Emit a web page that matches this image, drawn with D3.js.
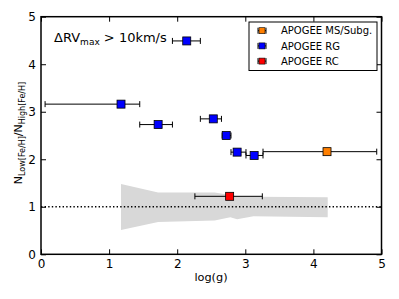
<!DOCTYPE html>
<html>
<head>
<meta charset="utf-8">
<script src="https://cdn.jsdelivr.net/npm/d3@7"></script>
<style>
  body { margin: 0; background: #fff; }
  text { font-family: "DejaVu Sans", sans-serif; }
</style>
</head>
<body>
<div id="chart"></div>
<script>
// APOGEE RG points
const rgX = [1.175, 1.72, 2.14, 2.53, 2.72, 2.88, 3.13];
const rgY = [3.16, 2.73, 4.49, 2.85, 2.50, 2.15, 2.08];
const rgXlo = [0.06, 1.45, 1.93, 2.34, 2.66, 2.79, 3.01];
const rgXhi = [1.45, 1.93, 2.34, 2.65, 2.79, 3.01, 3.26];

// APOGEE MS/Subg.
const msX = [4.20];
const msY = [2.16];
const msXlo = [3.26];
const msXhi = [4.93];

// APOGEE RC
const rcX = [2.77];
const rcY = [1.22];
const rcXlo = [2.26];
const rcXhi = [3.25];

// grey band
const bandX = [1.175, 1.72, 2.55, 2.78, 2.88, 3.12, 4.21];
const bandLo = [0.51, 0.68, 0.71, 0.78, 0.74, 0.80, 0.78];
const bandHi = [1.48, 1.30, 1.30, 1.25, 1.22, 1.21, 1.20];

const xTicks = [0, 1, 2, 3, 4, 5];
const yTicks = [0, 1, 2, 3, 4, 5];

const W = 399, H = 299;
const margin = { left: 41, right: 17.5, top: 16.7, bottom: 44.7 };
const width = W - margin.left - margin.right;
const height = H - margin.top - margin.bottom;

const svg = d3.select('#chart').append('svg')
  .attr('width', W).attr('height', H);

const g = svg.append('g')
  .attr('transform', `translate(${margin.left},${margin.top})`);

const x = d3.scaleLinear().domain([0, 5]).range([0, width]);
const y = d3.scaleLinear().domain([0, 5]).range([height, 0]);

// shaded band
const band = bandX.map((v, i) => ({ x: v, lo: bandLo[i], hi: bandHi[i] }));
g.append('path')
  .datum(band)
  .attr('fill', '#d8d8d8')
  .attr('d', d3.area().x(d => x(d.x)).y0(d => y(d.lo)).y1(d => y(d.hi)));

// dotted reference line
g.append('line')
  .attr('x1', 0).attr('x2', width)
  .attr('y1', y(1)).attr('y2', y(1))
  .attr('stroke', '#000').attr('stroke-width', 1.4)
  .attr('stroke-dasharray', '1.4,2.2');

// series with error bars
function drawSeries(xs, ys, lo, hi, color) {
  const data = xs.map((v, i) => ({ x: v, y: ys[i], lo: lo[i], hi: hi[i] }));
  const grp = g.append('g');
  const eb = grp.selectAll('g.eb').data(data).join('g').attr('class', 'eb');
  eb.append('line')
    .attr('x1', d => x(d.lo)).attr('x2', d => x(d.hi))
    .attr('y1', d => y(d.y)).attr('y2', d => y(d.y))
    .attr('stroke', '#000').attr('stroke-width', 1);
  ['lo', 'hi'].forEach(k => {
    eb.append('line')
      .attr('x1', d => x(d[k])).attr('x2', d => x(d[k]))
      .attr('y1', d => y(d.y) - 3).attr('y2', d => y(d.y) + 3)
      .attr('stroke', '#000').attr('stroke-width', 1);
  });
  grp.selectAll('rect').data(data).join('rect')
    .attr('x', d => x(d.x) - 4).attr('y', d => y(d.y) - 4)
    .attr('width', 8).attr('height', 8)
    .attr('fill', color).attr('stroke', '#000').attr('stroke-width', 0.8);
}
drawSeries(rgX, rgY, rgXlo, rgXhi, '#0000ff');
drawSeries(msX, msY, msXlo, msXhi, '#ff7f00');
drawSeries(rcX, rcY, rcXlo, rcXhi, '#ff0000');

// axes: ticks inward on all sides
const tickLen = 5;
g.append('g').attr('transform', `translate(0,${height})`)
  .call(d3.axisBottom(x).tickValues(xTicks).tickFormat(d3.format('d')).tickSizeInner(-tickLen).tickSizeOuter(0).tickPadding(5));
g.append('g')
  .call(d3.axisLeft(y).tickValues(yTicks).tickFormat(d3.format('d')).tickSizeInner(-tickLen).tickSizeOuter(0).tickPadding(5));
g.append('g')
  .call(d3.axisTop(x).tickValues(xTicks).tickFormat('').tickSizeInner(-tickLen).tickSizeOuter(0));
g.append('g').attr('transform', `translate(${width},0)`)
  .call(d3.axisRight(y).tickValues(yTicks).tickFormat('').tickSizeInner(-tickLen).tickSizeOuter(0));

g.selectAll('.domain').remove();
g.selectAll('.tick line').attr('stroke', '#000').attr('stroke-width', 1);
g.selectAll('.tick text').attr('font-size', 12).attr('fill', '#000')
  .attr('font-family', '"DejaVu Sans", sans-serif');

// frame
g.append('rect')
  .attr('width', width).attr('height', height)
  .attr('fill', 'none').attr('stroke', '#000').attr('stroke-width', 1.5);

// x label
svg.append('text')
  .attr('x', 211).attr('y', 281)
  .attr('text-anchor', 'middle').attr('font-size', 11.3)
  .text('log(g)');

// y label
const yl = svg.append('text')
  .attr('transform', 'translate(22,133) rotate(-90)')
  .attr('text-anchor', 'middle').attr('font-size', 11);
yl.append('tspan').text('N');
yl.append('tspan').attr('font-size', 8).attr('dy', 3).text('Low[Fe/H]');
yl.append('tspan').attr('dy', -3).text('/N');
yl.append('tspan').attr('font-size', 8).attr('dy', 3).text('High[Fe/H]');

// annotation
const ann = svg.append('text').attr('x', 54).attr('y', 42).attr('font-size', 13);
ann.append('tspan').text('ΔRV');
ann.append('tspan').attr('font-size', 9).attr('dy', 3).text('max');
ann.append('tspan').attr('dy', -3).text(' > 10km/s');

// legend
const legendNames = ['APOGEE MS/Subg.', 'APOGEE RG', 'APOGEE RC'];
const legendColors = ['#ff7f00', '#0000ff', '#ff0000'];
const lg = svg.append('g').attr('transform', 'translate(249,22)');
lg.append('rect').attr('width', 128).attr('height', 48.5)
  .attr('fill', '#fff').attr('stroke', '#000').attr('stroke-width', 1);
legendNames.forEach((name, i) => {
  const cy = 8.7 + i * 15.2;
  const item = lg.append('g').attr('transform', `translate(13,${cy})`);
  item.append('line').attr('x1', -4).attr('x2', 4).attr('stroke', '#000');
  item.append('line').attr('x1', -4).attr('x2', -4).attr('y1', -3).attr('y2', 3).attr('stroke', '#000');
  item.append('line').attr('x1', 4).attr('x2', 4).attr('y1', -3).attr('y2', 3).attr('stroke', '#000');
  item.append('rect').attr('x', -3).attr('y', -3).attr('width', 6).attr('height', 6)
    .attr('fill', legendColors[i]).attr('stroke', '#000').attr('stroke-width', 0.6);
  lg.append('text').attr('x', 32).attr('y', cy + 3.6).attr('font-size', 10).text(name);
});
</script>
</body>
</html>
